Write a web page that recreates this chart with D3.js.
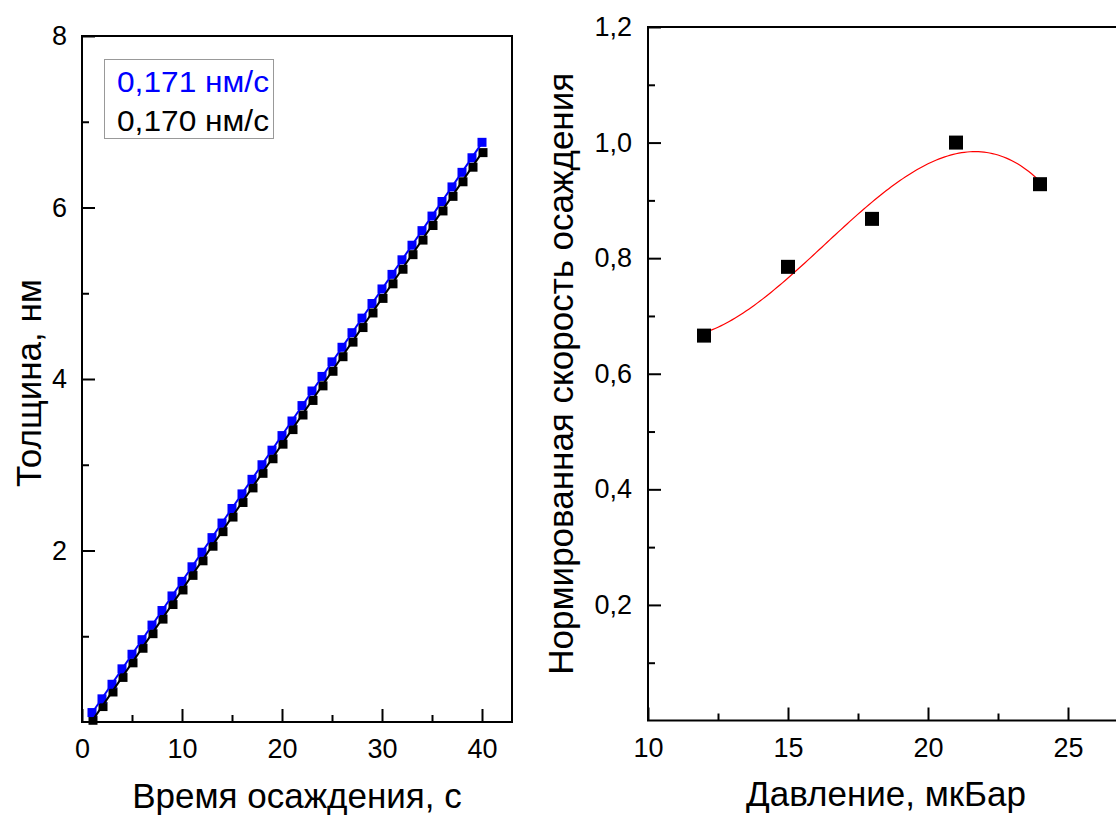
<!DOCTYPE html>
<html>
<head>
<meta charset="utf-8">
<script src="https://cdn.jsdelivr.net/npm/d3@7"></script>
<style>
  html, body { margin: 0; padding: 0; background: #fff; }
  svg { display: block; font-family: "Liberation Sans", Arial, sans-serif; }
</style>
</head>
<body>
<svg id="chart" width="1116" height="818"></svg>
<script>
// ---- Left panel: film thickness vs deposition time ----
const timeS = [1,2,3,4,5,6,7,8,9,10,11,12,13,14,15,16,17,18,19,20,
               21,22,23,24,25,26,27,28,29,30,31,32,33,34,35,36,37,38,39,40];
const thicknessBlue = [0.11,0.27,0.44,0.62,0.79,0.96,1.13,1.30,1.47,1.64,
                       1.81,1.98,2.15,2.32,2.49,2.66,2.83,3.00,3.17,3.34,
                       3.51,3.69,3.86,4.03,4.20,4.37,4.54,4.71,4.88,5.05,
                       5.22,5.39,5.56,5.73,5.90,6.07,6.24,6.41,6.58,6.76];
const thicknessBlack = [0.02,0.18,0.35,0.52,0.69,0.86,1.03,1.20,1.37,1.54,
                        1.71,1.88,2.05,2.22,2.39,2.56,2.73,2.90,3.07,3.24,
                        3.41,3.58,3.75,3.92,4.09,4.26,4.43,4.60,4.77,4.94,
                        5.11,5.28,5.45,5.62,5.79,5.96,6.13,6.30,6.47,6.64];
const legendLabels = ["0,171 нм/с", "0,170 нм/с"];
const leftXMajor = [0,10,20,30,40];
const leftXMinor = [5,15,25,35];
const leftYMajor = [2,4,6,8];
const leftYMinor = [1,3,5,7];

// ---- Right panel: normalized deposition rate vs pressure ----
const pressure = [12,15,18,21,24];
const rateNorm = [0.666,0.785,0.868,1.0,0.928];
const rightXMajor = [10,15,20,25];
const rightXMinor = [12.5,17.5,22.5];
const rightYMajor = [0.2,0.4,0.6,0.8,1.0,1.2];
const rightYMinor = [0.1,0.3,0.5,0.7,0.9,1.1];

const svg = d3.select("#chart");
const FONT_TICK = 27, FONT_TITLE = 35, FONT_LEGEND = 30;
const comma = v => d3.format(".1f")(v).replace(".", ",");

// least-squares linear fit
function linFit(xs, ys) {
  const mx = d3.mean(xs), my = d3.mean(ys);
  let sxy = 0, sxx = 0;
  xs.forEach((x, i) => { sxy += (x - mx) * (ys[i] - my); sxx += (x - mx) ** 2; });
  const b = sxy / sxx;
  return x => my + b * (x - mx);
}

// least-squares polynomial fit (normal equations, Gaussian elimination)
function polyFit(xs, ys, deg) {
  const n = deg + 1;
  const A = Array.from({length: n}, () => new Array(n + 1).fill(0));
  xs.forEach((x, k) => {
    for (let i = 0; i < n; i++) {
      for (let j = 0; j < n; j++) A[i][j] += Math.pow(x, i + j);
      A[i][n] += ys[k] * Math.pow(x, i);
    }
  });
  for (let c = 0; c < n; c++) {
    let p = c;
    for (let r = c + 1; r < n; r++) if (Math.abs(A[r][c]) > Math.abs(A[p][c])) p = r;
    [A[c], A[p]] = [A[p], A[c]];
    for (let r = 0; r < n; r++) {
      if (r === c) continue;
      const f = A[r][c] / A[c][c];
      for (let j = c; j <= n; j++) A[r][j] -= f * A[c][j];
    }
  }
  const coef = A.map((row, i) => row[n] / row[i]);
  return x => coef.reduce((s, c, i) => s + c * Math.pow(x, i), 0);
}

function styleAxis(g) {
  g.select(".domain").remove();
  g.selectAll(".tick line").attr("stroke", "#000").attr("stroke-width", 2);
  g.selectAll(".tick text").attr("fill", "#000")
    .style("font-size", FONT_TICK + "px")
    .style("font-family", '"Liberation Sans", Arial, sans-serif');
}

// ================= Left panel =================
{
  const L = {x0: 82, x1: 512, y0: 36, y1: 722};
  const x = d3.scaleLinear().domain([0, 43]).range([L.x0, L.x1]);
  const y = d3.scaleLinear().domain([0, 8]).range([L.y1, L.y0]);
  const g = svg.append("g");

  // ticks (pointing inward)
  g.append("g").attr("transform", `translate(0,${L.y1})`)
    .call(d3.axisBottom(x).tickValues(leftXMajor).tickFormat(d3.format("d"))
      .tickSizeInner(-13).tickSizeOuter(0).tickPadding(17)).call(styleAxis);
  g.append("g").attr("transform", `translate(0,${L.y1})`)
    .call(d3.axisBottom(x).tickValues(leftXMinor).tickFormat("")
      .tickSizeInner(-7).tickSizeOuter(0)).call(styleAxis);
  g.append("g").attr("transform", `translate(${L.x0},0)`)
    .call(d3.axisLeft(y).tickValues(leftYMajor).tickFormat(d3.format("d"))
      .tickSizeInner(-13).tickSizeOuter(0).tickPadding(15)).call(styleAxis);
  g.append("g").attr("transform", `translate(${L.x0},0)`)
    .call(d3.axisLeft(y).tickValues(leftYMinor).tickFormat("")
      .tickSizeInner(-7).tickSizeOuter(0)).call(styleAxis);

  // data markers
  const sq = 9;
  g.append("g").selectAll("rect").data(timeS).join("rect")
    .attr("x", (d) => x(d) - sq / 2 + 1)
    .attr("y", (d, i) => y(thicknessBlack[i]) - sq / 2)
    .attr("width", sq).attr("height", sq).attr("fill", "#000");
  g.append("g").selectAll("rect").data(timeS).join("rect")
    .attr("x", (d) => x(d) - sq / 2)
    .attr("y", (d, i) => y(thicknessBlue[i]) - sq / 2)
    .attr("width", sq).attr("height", sq).attr("fill", "#0000ff");

  // linear fits
  const fitBlue = linFit(timeS, thicknessBlue);
  const fitBlack = linFit(timeS, thicknessBlack);
  const tRange = d3.extent(timeS);
  const line = d3.line().x(d => x(d[0])).y(d => y(d[1]));
  g.append("path").datum(tRange.map(t => [t, fitBlue(t)]))
    .attr("d", line).attr("stroke", "#0000ff").attr("stroke-width", 2).attr("fill", "none");
  g.append("path").datum(tRange.map(t => [t, fitBlack(t)]))
    .attr("d", line).attr("stroke", "#000").attr("stroke-width", 2).attr("fill", "none");

  // frame
  g.append("rect").attr("x", L.x0).attr("y", L.y0)
    .attr("width", L.x1 - L.x0).attr("height", L.y1 - L.y0)
    .attr("fill", "none").attr("stroke", "#000").attr("stroke-width", 2);

  // legend
  const lg = g.append("g");
  lg.append("rect").attr("x", 104.5).attr("y", 59.5).attr("width", 169).attr("height", 79)
    .attr("fill", "#fff").attr("stroke", "#999").attr("stroke-width", 1);
  [0, 1].forEach(i => {
    lg.append("text").attr("x", 117).attr("y", i === 0 ? 92 : 131)
      .attr("fill", i === 0 ? "#0000ff" : "#000")
      .attr("textLength", 152).attr("lengthAdjust", "spacingAndGlyphs")
      .style("font-size", FONT_LEGEND + "px").text(legendLabels[i]);
  });

  // axis titles
  g.append("text").attr("transform", `translate(41,${(L.y0 + L.y1) / 2 + 4}) rotate(-90)`)
    .attr("text-anchor", "middle").style("font-size", FONT_TITLE + "px").text("Толщина, нм");
  g.append("text").attr("x", (L.x0 + L.x1) / 2).attr("y", 808)
    .attr("text-anchor", "middle").style("font-size", FONT_TITLE + "px").text("Время осаждения, с");
}

// ================= Right panel =================
{
  const R = {x0: 648, x1: 1124, y0: 27, y1: 720.5};
  const x = d3.scaleLinear().domain([10, 27]).range([R.x0, R.x1]);
  const y = d3.scaleLinear().domain([0, 1.2]).range([R.y1, R.y0]);
  const g = svg.append("g");

  g.append("g").attr("transform", `translate(0,${R.y1})`)
    .call(d3.axisBottom(x).tickValues(rightXMajor).tickFormat(d3.format("d"))
      .tickSizeInner(-13).tickSizeOuter(0).tickPadding(17)).call(styleAxis);
  g.append("g").attr("transform", `translate(0,${R.y1})`)
    .call(d3.axisBottom(x).tickValues(rightXMinor).tickFormat("")
      .tickSizeInner(-7).tickSizeOuter(0)).call(styleAxis);
  g.append("g").attr("transform", `translate(${R.x0},0)`)
    .call(d3.axisLeft(y).tickValues(rightYMajor).tickFormat(comma)
      .tickSizeInner(-13).tickSizeOuter(0).tickPadding(16)).call(styleAxis);
  g.append("g").attr("transform", `translate(${R.x0},0)`)
    .call(d3.axisLeft(y).tickValues(rightYMinor).tickFormat("")
      .tickSizeInner(-7).tickSizeOuter(0)).call(styleAxis);

  // cubic polynomial fit through the measurements
  const fit = polyFit(pressure, rateNorm, 3);
  const [pMin, pMax] = d3.extent(pressure);
  const curve = d3.range(0, 121).map(i => {
    const p = pMin + (pMax - pMin) * i / 120;
    return [p, fit(p)];
  });
  g.append("path").datum(curve)
    .attr("d", d3.line().x(d => x(d[0])).y(d => y(d[1])))
    .attr("fill", "none").attr("stroke", "#ff0000").attr("stroke-width", 1.2);

  const sq = 14;
  g.append("g").selectAll("rect").data(pressure).join("rect")
    .attr("x", d => x(d) - sq / 2)
    .attr("y", (d, i) => y(rateNorm[i]) - sq / 2)
    .attr("width", sq).attr("height", sq).attr("fill", "#000");

  // frame (right edge falls outside the canvas)
  g.append("rect").attr("x", R.x0).attr("y", R.y0)
    .attr("width", R.x1 - R.x0).attr("height", R.y1 - R.y0)
    .attr("fill", "none").attr("stroke", "#000").attr("stroke-width", 2);

  g.append("text").attr("transform", `translate(573,${(R.y0 + R.y1) / 2}) rotate(-90)`)
    .attr("text-anchor", "middle").style("font-size", FONT_TITLE + "px")
    .text("Нормированная скорость осаждения");
  g.append("text").attr("x", (R.x0 + R.x1) / 2).attr("y", 806)
    .attr("text-anchor", "middle").style("font-size", FONT_TITLE + "px").text("Давление, мкБар");
}
</script>
</body>
</html>
